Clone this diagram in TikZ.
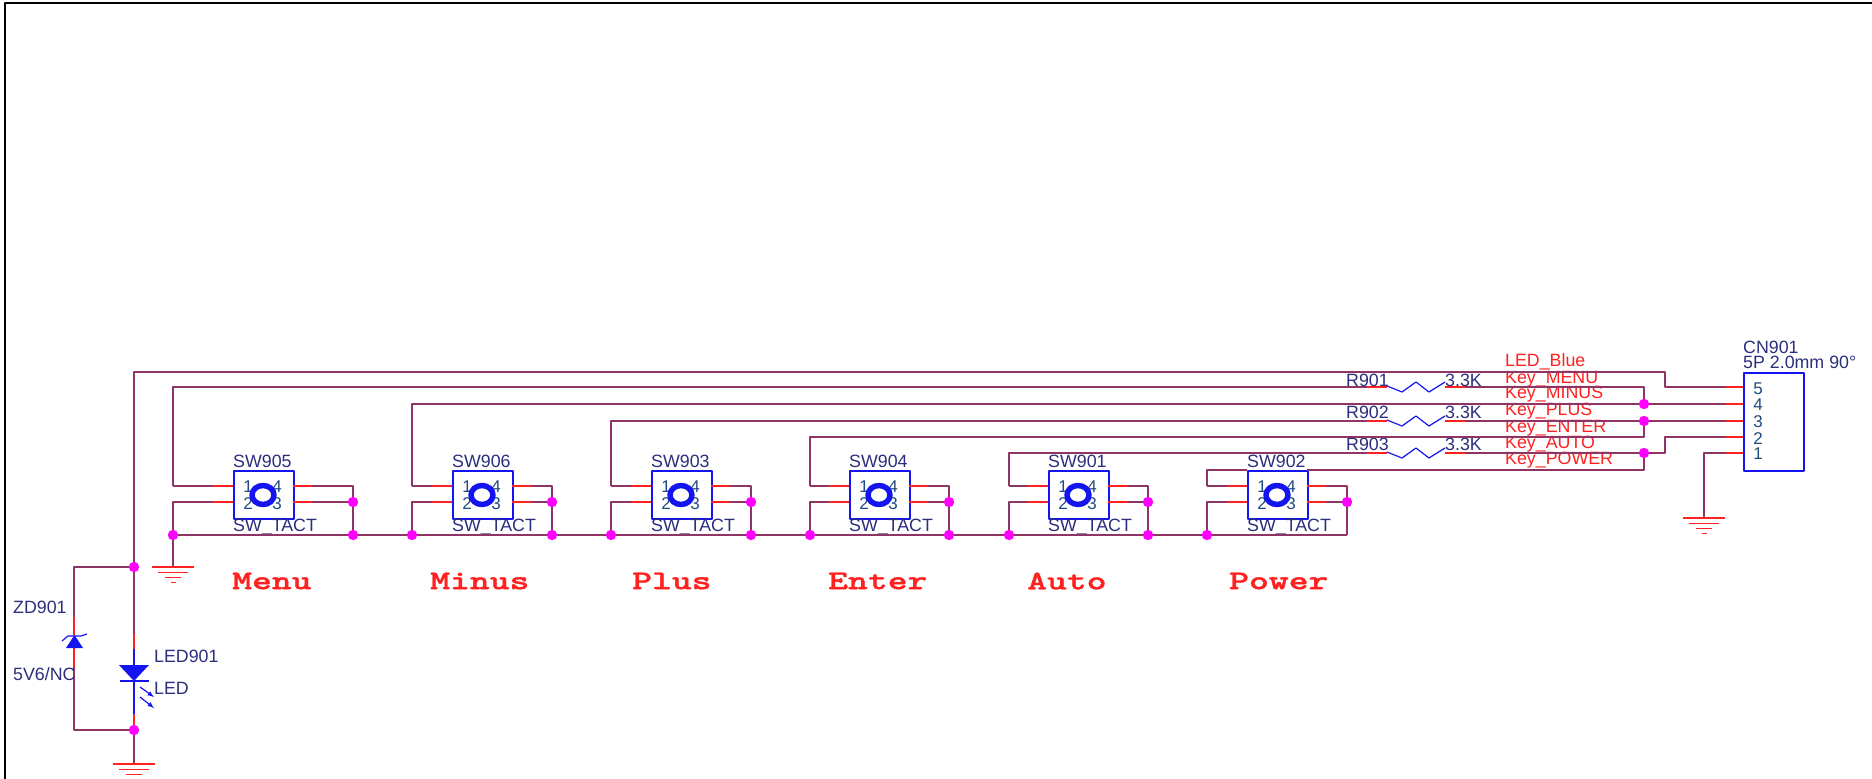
\documentclass[tikz,border=0pt]{standalone}
\usepackage{fontspec}
\setmainfont{Liberation Sans}
\newfontfamily\keyfont[FakeStretch=1.4,FakeBold=1.2]{Latin Modern Mono Light}
\definecolor{wirec}{HTML}{8E3566}
\definecolor{stubc}{HTML}{FF2020}
\definecolor{partc}{HTML}{1414F0}
\definecolor{textc}{HTML}{2A2E7C}
\definecolor{pinc}{HTML}{1F4A80}
\definecolor{dotc}{HTML}{FF00FF}
\tikzset{
	wire/.style={draw=wirec,line width=1.5pt},
	stub/.style={draw=stubc,line width=1.3pt},
	part/.style={draw=partc,line width=1.5pt},
	ref/.style={anchor=west,inner sep=0pt,text=textc,font=\fontsize{17.8}{19}\selectfont},
	net/.style={anchor=west,inner sep=0pt,text=stubc,font=\fontsize{17.8}{19}\selectfont},
	pinnum/.style={inner sep=0pt,text=pinc,font=\fontsize{17}{18}\selectfont},
	keyname/.style={anchor=west,inner sep=0pt,text=stubc,font=\fontsize{27}{28}\keyfont\bfseries},
	swbox/.style={part,inner sep=0pt,minimum width=60pt,minimum height=48pt},
	cnbox/.style={part,inner sep=0pt,minimum width=60pt,minimum height=98pt}
}
\begin{document}
\begin{tikzpicture}[x=1pt,y=-1pt,join=round]
	\useasboundingbox (0,0) rectangle (1872,779);
	\draw[line width=2pt] (5,779)--(5,3)--(1872,3);
	% các công tắc
	\foreach \sw/\bx/\lx/\rx in {905/233/173/353,906/452/412/552,903/651/611/751,904/849/810/949,901/1048/1009/1148,902/1247/1207/1347}{
		\node[swbox,anchor=north west] (SW\sw) at (\bx,470) {};
		\coordinate (L\sw a) at (\lx,486);
		\coordinate (L\sw b) at (\lx,502);
		\coordinate (L\sw c) at (\lx,535);
		\coordinate (R\sw a) at (\rx,486);
		\coordinate (R\sw b) at (\rx,502);
		\coordinate (R\sw c) at (\rx,535);
		\draw[wire] (L\sw a)--(\bx-20,486) (L\sw c)--(L\sw b)--(\bx-20,502);
		\draw[wire] (\bx+79,486)--(R\sw a)--(R\sw c) (\bx+79,502)--(R\sw b);
		\draw[stub] (\bx-20,486)--(\bx,486) (\bx-20,502)--(\bx,502);
		\draw[stub] (\bx+60,486)--(\bx+79,486) (\bx+60,502)--(\bx+79,502);
		\node[pinnum] (N\sw a) at (\bx+15,487) {1};
		\node[pinnum] (N\sw b) at (\bx+44,487) {4};
		\node[pinnum] (N\sw c) at (\bx+15,504) {2};
		\node[pinnum] (N\sw d) at (\bx+44,504) {3};
		\draw[partc,line width=5.5pt] (\bx+30,495) ellipse (11pt and 9.5pt);
		\node[ref] (T\sw) at (\bx,461) {SW\sw};
		\node[ref] (V\sw) at (\bx,527) {SW\_TACT};
	}
	% tên phím
	\foreach \ten/\x in {Menu/232,Minus/430,Plus/632,Enter/828,Auto/1027,Power/1229}
		\node[keyname] (K\ten) at (\x,581) {\ten};
	% đầu nối
	\node[cnbox,anchor=north west] (CN901) at (1743,372) {};
	\node[ref] (CNa) at (1743,347) {CN901};
	\node[ref] (CNb) at (1743,362) {5P 2.0mm 90°};
	\foreach \chan/\y/\yn in {5/387/389,4/404/405,3/421/422,2/437/439,1/453/454}{
		\coordinate (P\chan) at (1726,\y);
		\draw[stub] (P\chan)--(1743,\y);
		\node[pinnum] (N\chan) at (1758,\yn) {\chan};
	}
	% điện trở
	\foreach \rr/\y/\yt in {901/387/380,902/421/412,903/453/444}{
		\coordinate (RA\rr) at (1367,\y);
		\coordinate (RB\rr) at (1465,\y);
		\draw[stub] (RA\rr)--(1387,\y) (1445,\y)--(RB\rr);
		\draw[part,line width=1.2pt] (1387,\y-1)--(1402,\y+5)--(1416,\y-5)--(1429,\y+5)--(1445,\y-5);
		\node[ref] (RN\rr) at (1346,\yt) {R\rr};
		\node[ref] (RV\rr) at (1445,\yt) {3.3K};
	}
	% tên tín hiệu
	\foreach \ten/\y in {LED\_Blue/362,Key\_MENU/379,Key\_MINUS/394,Key\_PLUS/411,Key\_ENTER/428,Key\_AUTO/444,Key\_POWER/460}
		\node[net] at (1505,\y) {\ten};
	% dây nối
	\coordinate (LEDtop) at (134,634);
	\draw[wire] (LEDtop)--(134,372)--(1665,372)--(1665,387)--(P5);
	\draw[wire] (L905a)--(173,387)--(RA901) (RB901)--(1644,387)--(1644,404);
	\draw[wire] (L906a)--(412,404)--(P4);
	\draw[wire] (L903a)--(611,421)--(RA902) (RB902)--(P3);
	\draw[wire] (L904a)--(810,437)--(1644,437)--(1644,421);
	\draw[wire] (L901a)--(1009,453)--(RA903) (RB903)--(1665,453)--(1665,437)--(P2);
	\draw[wire] (L902a)--(1207,470)--(1247,470) (1307,470)--(1644,470)--(1644,453);
	\draw[wire] (L905c)--(R902c);
	\draw[wire] (L905c)--(173,567);
	\draw[wire] (P1)--(1704,453)--(1704,518);
	% LED
	\coordinate (LEDbot) at (134,730);
	\coordinate (ZDtop) at (134,567);
	\draw[stub] (LEDtop)--(134,649) (134,714)--(LEDbot);
	\draw[part] (134,649)--(134,714);
	\fill[partc] (119,665)--(149,665)--(134,681)--cycle;
	\draw[part] (120,681)--(149,681);
	\draw[partc,line width=1.2pt,-latex] (140,687)--(154,697);
	\draw[partc,line width=1.2pt,-latex] (140,697)--(154,708);
	\draw[wire] (LEDbot)--(134,764);
	\node[ref] (LED901) at (154,656) {LED901};
	\node[ref] (LEDv) at (154,688) {LED};
	% diode zener
	\coordinate (ZDa) at (74,617);
	\coordinate (ZDb) at (74,667);
	\draw[wire] (ZDtop)--(74,567)--(ZDa) (ZDb)--(74,730)--(LEDbot);
	\draw[stub] (ZDa)--(74,635) (74,648)--(ZDb);
	\fill[partc] (66,648)--(83,648)--(74.5,635)--cycle;
	\draw[part,line width=1.2pt] (62,641)--(68,636)--(81,636)--(87,634);
	\node[ref] (ZD901) at (13,607) {ZD901};
	\node[ref] (ZDv) at (13,674) {5V6/NC};
	% mass
	\foreach \x/\y in {173/567,134/764,1704/518}{
		\draw[stub] (\x-21,\y)--(\x+21,\y) (\x-15,\y+5.5)--(\x+15,\y+5.5) (\x-8,\y+10.5)--(\x+8,\y+10.5) (\x-2.5,\y+15.5)--(\x+2.5,\y+15.5);
	}
	% điểm nối
	\foreach \sw in {905,906,903,904,901,902}\fill[dotc] (L\sw c)circle(5.2pt);
	\foreach \sw in {905,906,903,904,901,902}\fill[dotc] (R\sw b)circle(5.2pt);
	\foreach \sw in {905,906,903,904,901}\fill[dotc] (R\sw c)circle(5.2pt);
	\foreach \x/\y in {134/567,134/730,1644/404,1644/421,1644/453}\fill[dotc] (\x,\y)circle(5.2pt);
\end{tikzpicture}
\end{document}
